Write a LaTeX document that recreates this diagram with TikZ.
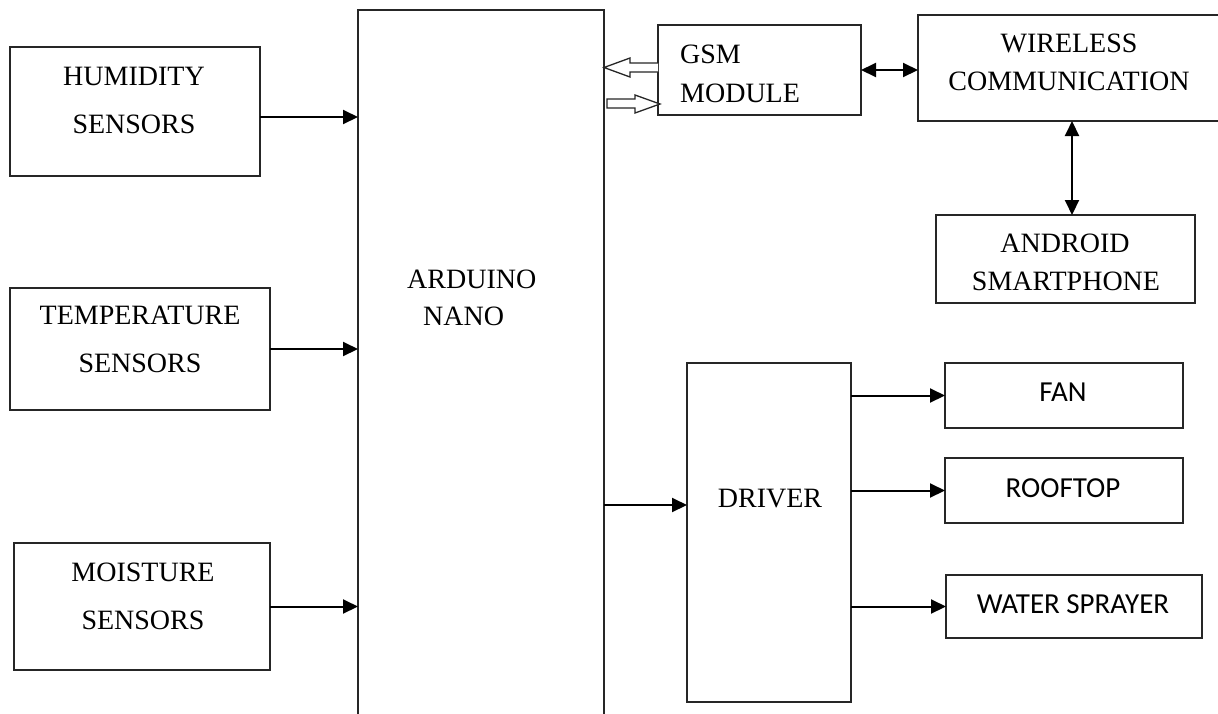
\documentclass[tikz,border=0pt]{standalone}
\usepackage{fontspec}
\setmainfont{Liberation Serif}
\newfontfamily\calfont{Carlito}
\usetikzlibrary{arrows.meta,calc}
\begin{document}
\begin{tikzpicture}[x=1pt,y=-1pt,
 box/.style={draw=black!85,line width=2pt,inner sep=0,outer sep=0,rectangle,fill=none},
 tx/.style={anchor=base,inner sep=0,font=\fontsize{28}{34}\selectfont},
 cx/.style={anchor=base,inner sep=0,font=\calfont\fontsize{29}{32}\selectfont},
 arr/.style={draw=black,line width=2pt,-{Triangle[length=15pt,width=14pt]}},
 dbl/.style={draw=black,line width=2pt,{Triangle[length=15pt,width=14pt]}-{Triangle[length=15pt,width=14pt]}},
 hollow/.style={draw=black!85,line width=1.3pt,fill=white,line join=miter}]
\useasboundingbox (0,0) rectangle (1218,713);
\clip (0,0) rectangle (1218,713);
% boxes
\node[box,minimum width=250,minimum height=129] (hum) at (135,111.5) {};
\node[box,minimum width=260,minimum height=122] (temp) at (140,349) {};
\node[box,minimum width=256,minimum height=127] (moist) at (142,606.5) {};
\node[box,minimum width=246,minimum height=710] (ard) at (481,365) {};
\node[box,minimum width=203,minimum height=90] (gsm) at (759.5,70) {};
\node[box,minimum width=312,minimum height=106] (wire) at (1074,68) {};
\node[box,minimum width=259,minimum height=88] (andr) at (1065.5,259) {};
\node[box,minimum width=164,minimum height=339] (drv) at (769,532.5) {};
\node[box,minimum width=238,minimum height=65] (fan) at (1064,395.5) {};
\node[box,minimum width=238,minimum height=65] (roof) at (1064,490.5) {};
\node[box,minimum width=256,minimum height=63] (water) at (1074,606.5) {};
% texts
\node[tx] (hum1) at (134,85) {HUMIDITY};
\node[tx] (hum2) at (134,133) {SENSORS};
\node[tx] (temp1) at (140,324) {TEMPERATURE};
\node[tx] (temp2) at (140,372) {SENSORS};
\node[tx] (moist1) at (143,581) {MOISTURE};
\node[tx] (moist2) at (143,629) {SENSORS};
\node[tx,anchor=base west] (ard1) at (407,288) {ARDUINO};
\node[tx,anchor=base west] (ard2) at (423,325) {NANO};
\node[tx,anchor=base west] (gsm1) at (680,63) {GSM};
\node[tx,anchor=base west] (gsm2) at (680,102) {MODULE};
\node[tx] (wire1) at (1069,52) {WIRELESS};
\node[tx] (wire2) at (1069,90) {COMMUNICATION};
\node[tx] (andr1) at (1065,252) {ANDROID};
\node[tx] (andr2) at (1066,290) {SMARTPHONE};
\node[tx] (drv1) at (770,507) {DRIVER};
\node[cx] (fan1) at (1063,401) {FAN};
\node[cx] (roof1) at (1063,497) {ROOFTOP};
\node[cx] (water1) at (1073,613) {WATER SPRAYER};
% sensor arrows
\coordinate (h1) at ($(hum.east)+(0,5.5)$);
\draw[arr] (h1) -- (h1 -| ard.west);
\draw[arr] (temp.east) -- (temp.east -| ard.west);
\draw[arr] (moist.east) -- (moist.east -| ard.west);
% arduino to driver
\coordinate (d1) at ($(drv.west)+(0,-27.5)$);
\draw[arr] (d1 -| ard.east) -- (d1);
% driver outputs
\draw[arr] (fan.west -| drv.east) -- (fan.west);
\draw[arr] (roof.west -| drv.east) -- (roof.west);
\draw[arr] (water.west -| drv.east) -- (water.west);
% gsm <-> wireless
\draw[dbl] (gsm.east) -- (gsm.east -| wire.west);
% wireless <-> android
\coordinate (w1) at ($(andr.north)+(6.5,0)$);
\draw[dbl] (w1 |- wire.south) -- (w1);
% hollow arrows between gsm and arduino
\draw[hollow] ($(gsm.west)+(0,-7)$) -- ++(-28,0) -- ++(0,-5) -- ($(gsm.west)+(-54,-2.5)$)
  -- ($(gsm.west)+(-28,7)$) -- ++(0,-5) -- ($(gsm.west)+(0,2)$);
\draw[hollow] ($(gsm.west)+(-51,29)$) -- ++(28,0) -- ++(0,-4) -- ($(gsm.west)+(2,34)$)
  -- ($(gsm.west)+(-23,43)$) -- ++(0,-5) -- ($(gsm.west)+(-51,38)$) -- cycle;
\end{tikzpicture}
\end{document}
